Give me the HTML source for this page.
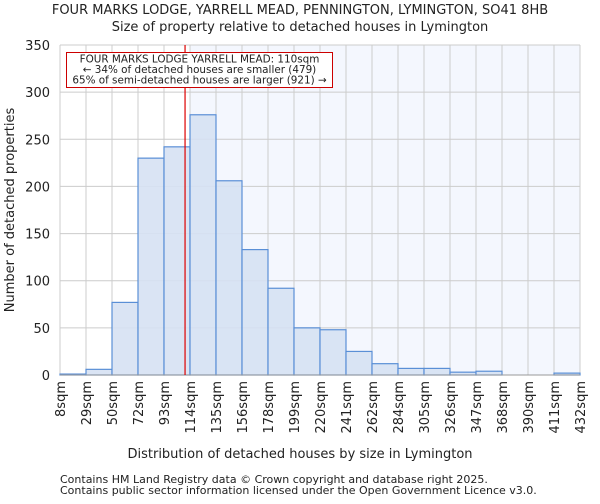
<!DOCTYPE html>
<html><head><meta charset="utf-8"><style>
body{margin:0;background:#fff;font-family:"DejaVu Sans","Liberation Sans",sans-serif}
svg text{font-family:"DejaVu Sans","Liberation Sans",sans-serif;fill:#222}
</style></head><body>
<svg id="c" width="600" height="500">
<text x="300" y="14" text-anchor="middle" font-size="13">FOUR MARKS LODGE, YARRELL MEAD, PENNINGTON, LYMINGTON, SO41 8HB</text>
<text x="300" y="31" text-anchor="middle" font-size="13">Size of property relative to detached houses in Lymington</text>
<g id="plot"></g>
<text x="300" y="458" text-anchor="middle" font-size="13">Distribution of detached houses by size in Lymington</text>
<text transform="translate(14,210) rotate(-90)" text-anchor="middle" font-size="13">Number of detached properties</text>
<text x="60" y="483" font-size="11" fill="#444">Contains HM Land Registry data © Crown copyright and database right 2025.</text>
<text x="60" y="494" font-size="11" fill="#444">Contains public sector information licensed under the Open Government Licence v3.0.</text>
</svg>
<script>
const binLabels=["8sqm","29sqm","50sqm","72sqm","93sqm","114sqm","135sqm","156sqm","178sqm","199sqm","220sqm","241sqm","262sqm","284sqm","305sqm","326sqm","347sqm","368sqm","390sqm","411sqm","432sqm"];
const counts=[1,6,77,230,242,276,206,133,92,50,48,25,12,7,7,3,4,0,0,2];
const yTicks=[0,50,100,150,200,250,300,350];
const subjectBinPos=[4,17/21];
const NS="http://www.w3.org/2000/svg";
const X0=60,X1=580,Y0=375,Y1=45,YMAX=350;
const bw=(X1-X0)/counts.length;
const xs=i=>X0+i*bw;
const ys=v=>Y0-(v/YMAX)*(Y0-Y1);
const g=document.getElementById('plot');
function mk(t,a){const e=document.createElementNS(NS,t);for(const k in a)e.setAttribute(k,a[k]);g.appendChild(e);return e;}
const redX=xs(subjectBinPos[0]+subjectBinPos[1]);
let sh=mk('rect',{x:xs(5),y:Y1,width:X1-xs(5),height:Y0-Y1,fill:'#f4f7fe'});


for(let i=0;i<=counts.length;i++){let l=mk('line',{x1:xs(i),x2:xs(i),y1:Y1,y2:Y0,stroke:'#ccc','stroke-width':1});

}
yTicks.forEach(v=>{let l=mk('line',{x1:X0,x2:X1,y1:ys(v),y2:ys(v),stroke:'#ccc','stroke-width':1});


let t=mk('text',{x:X0-10,y:ys(v)+5,'text-anchor':'end','font-size':13});t.textContent=v;

});
counts.forEach((c,i)=>{let r=mk('rect',{x:xs(i),y:ys(c),width:bw,height:Y0-ys(c),fill:'#d6e1f3','fill-opacity':0.9,stroke:'#5a8fd6','stroke-width':1.2});

});
binLabels.forEach((s,i)=>{let t=mk('text',{transform:`translate(${xs(i)+5},381) rotate(-90)`,'text-anchor':'end','font-size':13});t.textContent=s;

});
let ax=mk('line',{x1:X0,x2:X1,y1:Y0,y2:Y0,stroke:'#999','stroke-width':1});


let rl=mk('line',{x1:redX,x2:redX,y1:Y1,y2:Y0,stroke:'#d00','stroke-width':1.2});


let box=mk('rect',{x:66.5,y:52.5,width:266,height:35,fill:'#fff',stroke:'#c00','stroke-width':1});


["FOUR MARKS LODGE YARRELL MEAD: 110sqm","← 34% of detached houses are smaller (479)","65% of semi-detached houses are larger (921) →"].forEach((s,i)=>{let t=mk('text',{x:199.5,y:62.5+i*10.5,'text-anchor':'middle','font-size':10.4});t.textContent=s;

});
</script>
</body></html>
